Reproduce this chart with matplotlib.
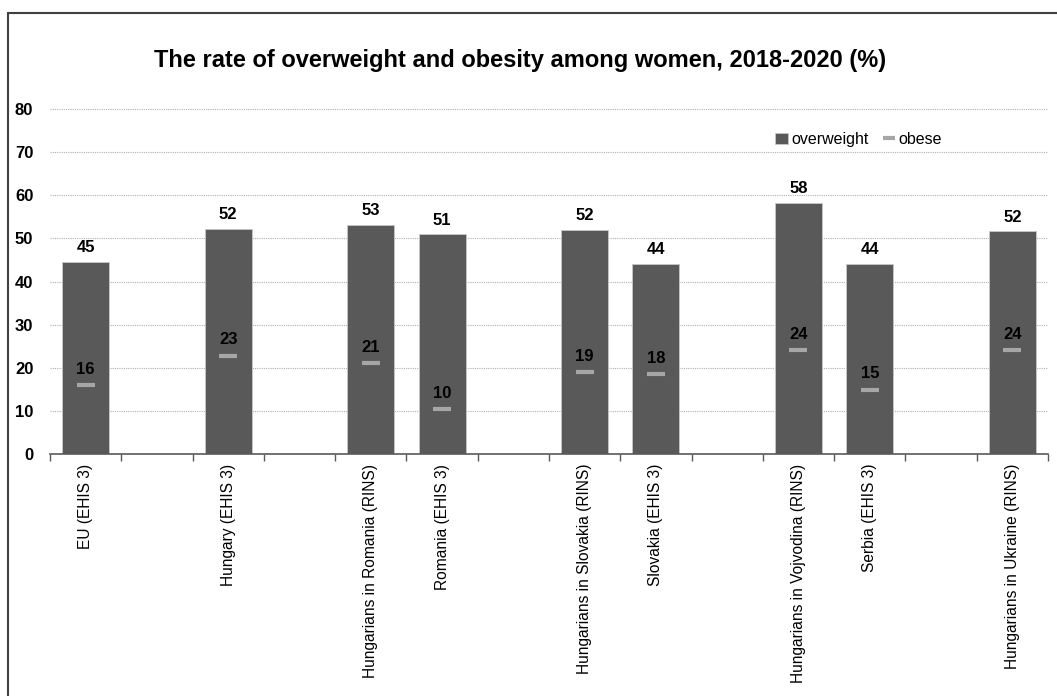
import matplotlib
matplotlib.use("Agg")
import matplotlib.pyplot as plt
import numpy as np
from matplotlib import font_manager
from matplotlib.patches import Rectangle

# pick a narrow font if there is one
names = set(f.name for f in font_manager.fontManager.ttflist)
font = "Liberation Sans Narrow" if "Liberation Sans Narrow" in names else "Liberation Sans"
plt.rcParams['font.family'] = [font, 'DejaVu Sans']

# empty strings are the gaps between the groups
categories = ["EU (EHIS 3)", "", "Hungary (EHIS 3)", "", "Hungarians in Romania (RINS)",
              "Romania (EHIS 3)", "", "Hungarians in Slovakia (RINS)", "Slovakia (EHIS 3)", "",
              "Hungarians in Vojvodina (RINS)", "Serbia (EHIS 3)", "", "Hungarians in Ukraine (RINS)"]
overweight = [44.6, np.nan, 52.1, np.nan, 53.1, 50.9, np.nan, 52.0, 44.0, np.nan, 58.2, 44.0, np.nan, 51.6]
obese = [15.9, np.nan, 22.8, np.nan, 21.0, 10.4, np.nan, 19.0, 18.5, np.nan, 24.1, 14.9, np.nan, 24.1]

fig = plt.figure(figsize=(10.57, 6.96), dpi=100)
ax = fig.add_axes([50/1057, 1-454/696, 998/1057, 345/696])

x = np.arange(len(categories))
bars = ax.bar(x, overweight, width=0.66, color="#595959", edgecolor="#c8c8c8", linewidth=0.6,
              label="overweight", zorder=2)
line, = ax.plot(x, obese, linestyle="none", marker="_", markersize=13, markeredgewidth=3,
                color="#a6a6a6", label="obese", zorder=3)

for xi, v in zip(x, overweight):
    if not np.isnan(v):
        ax.annotate("%d" % round(v), (xi, v), xytext=(0, 5), textcoords="offset points",
                    ha="center", va="bottom", fontsize=12, fontweight="bold")
for xi, v in zip(x, obese):
    if not np.isnan(v):
        ax.annotate("%d" % round(v), (xi, v), xytext=(0, 6), textcoords="offset points",
                    ha="center", va="bottom", fontsize=12, fontweight="bold")

ax.set_xlim(-0.5, len(categories) - 0.5)
ax.set_ylim(0, 80)
ax.set_yticks(np.arange(0, 81, 10))
ax.tick_params(axis="y", length=0, pad=12, labelsize=12)
for lab in ax.get_yticklabels():
    lab.set_fontweight("bold")
ax.yaxis.grid(True, linestyle=(0, (1, 1)), color="#b0b0b0", linewidth=0.8, zorder=0)

ax.set_xticks(x)
ax.set_xticklabels(categories, rotation=90, fontsize=11.2)
ax.tick_params(axis="x", which="major", length=0, pad=7)
ax.set_xticks(np.arange(-0.5, len(categories), 1), minor=True)
ax.tick_params(axis="x", which="minor", length=5, color="#595959", width=1)

for side in ["left", "right", "top"]:
    ax.spines[side].set_visible(False)
ax.spines["bottom"].set_color("#595959")
ax.spines["bottom"].set_linewidth(1.2)

ax.legend([bars, line], ["overweight", "obese"], loc="upper left",
          bbox_to_anchor=(0.712, 0.975), ncol=2, frameon=False,
          fontsize=11.5, handlelength=0.8, handletextpad=0.2, columnspacing=0.9,
          markerscale=0.7)

fig.text(520/1057, 1-60/696, "The rate of overweight and obesity among women, 2018-2020 (%)",
         ha="center", va="center", fontsize=17, fontweight="bold")

# frame around the picture
fig.patches.append(Rectangle((8/1057, -0.1), 1.1, 1.1 - 13/696, transform=fig.transFigure,
                             fill=False, edgecolor="#404040", linewidth=1.5))

fig.savefig("out.png", dpi=100)
